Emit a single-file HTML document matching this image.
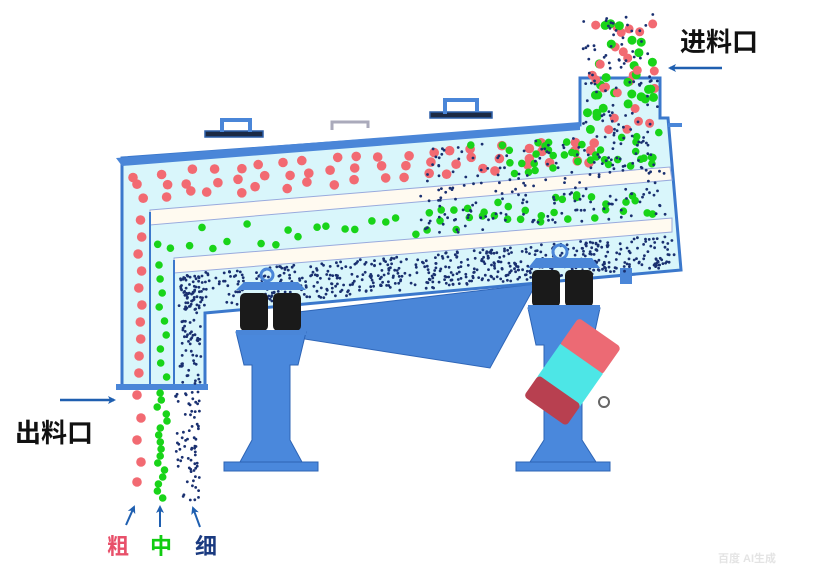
<!DOCTYPE html>
<html><head><meta charset="utf-8"><style>
html,body{margin:0;padding:0;background:#fff;width:821px;height:567px;overflow:hidden}
svg{display:block}
text{font-family:"Liberation Sans","Noto Sans CJK SC",sans-serif;font-weight:bold}
</style></head><body>
<svg id="s" width="821" height="567" viewBox="0 0 821 567" xmlns="http://www.w3.org/2000/svg">
<defs>
<marker id="ah" markerWidth="8" markerHeight="8" refX="6" refY="4" orient="auto" markerUnits="userSpaceOnUse"><path d="M0,0 L8,4 L0,8 L2,4 Z" fill="#1f5fb0"/></marker>
</defs>
<polygon points="298,312 536,284 490,368 298,338" fill="#4a86d8" stroke="#2f66b8" stroke-width="1"/>
<g fill="#4a88dc" stroke="#2d64b5" stroke-width="1">
<polygon points="236,332 306,332 298,365 290,365 290,440 302,462 240,462 252,440 252,365 244,365"/>
<rect x="224" y="462" width="94" height="9"/>
<polygon points="528,308 600,308 592,345 582,345 582,440 596,462 530,462 544,440 544,345 536,345"/>
<rect x="516" y="462" width="94" height="9"/>
</g>
<g transform="rotate(35 575 370)">
<rect x="548" y="325" width="52" height="34" rx="4" fill="#ec6a74"/>
<rect x="548" y="357" width="52" height="40" fill="#4de6e6"/>
<rect x="548" y="395" width="52" height="26" rx="4" fill="#b84050"/>
</g>
<circle cx="604" cy="402" r="5" fill="none" stroke="#666" stroke-width="2"/>
<polygon points="122,158 580,125 580,78 660,78 660,118 668,118 681,270 205,313 205,388 122,388" fill="#d9f6fb" stroke="#3b78cc" stroke-width="3"/>
<polygon points="116,158 580,122 580,130 122,166" fill="#4a86d8"/>
<line x1="668" y1="125" x2="682" y2="125" stroke="#4a86d8" stroke-width="4"/>
<rect x="620" y="268" width="12" height="16" fill="#4a86d8"/>
<polygon points="150,210 670,167 672,180 150,225" fill="#fffaf0" stroke="#9ad" stroke-width="1"/>
<polygon points="174,258 672,218 672,232 174,273" fill="#fffaf0" stroke="#9ad" stroke-width="1"/>
<line x1="150" y1="212" x2="150" y2="388" stroke="#3b78cc" stroke-width="2"/>
<line x1="174" y1="260" x2="174" y2="388" stroke="#3b78cc" stroke-width="2"/>
<rect x="116" y="384" width="92" height="6" fill="#4a86d8"/>
<g fill="#4a86d8" stroke="#2d5fa8" stroke-width="1.5">
<rect x="205" y="131" width="58" height="6" fill="#1c2a44"/>
<path d="M222,132 V120 H250 V132" fill="none" stroke="#4a86d8" stroke-width="4"/>
<path d="M332,130 V122 H368 V128" fill="none" stroke="#aab" stroke-width="3"/>
<rect x="430" y="112" width="62" height="6" fill="#1c2a44"/>
<path d="M445,114 V100 H477 V112" fill="none" stroke="#4a86d8" stroke-width="4"/>
</g>
<g id="parts"></g>
<g>
<polygon points="236,290 306,290 298,282 244,282" fill="#4a86d8"/>
<circle cx="267" cy="275" r="6" fill="none" stroke="#4a86d8" stroke-width="3"/>
<rect x="240" y="293" width="28" height="38" rx="5" fill="#1a1a1a"/>
<rect x="273" y="293" width="28" height="38" rx="5" fill="#1a1a1a"/>
<polygon points="528,268 600,268 592,258 536,258" fill="#4a86d8"/>
<circle cx="560" cy="252" r="7" fill="none" stroke="#4a86d8" stroke-width="3"/>
<rect x="532" y="270" width="28" height="37" rx="5" fill="#1a1a1a"/>
<rect x="565" y="270" width="28" height="37" rx="5" fill="#1a1a1a"/>
<rect x="528" y="305" width="72" height="5" fill="#4a86d8"/>
<rect x="236" y="330" width="70" height="5" fill="#4a86d8"/>
</g>
<text x="680" y="51" font-size="26" fill="#111">进料口</text>
<line x1="722" y1="68" x2="670" y2="68" stroke="#1f5fb0" stroke-width="2.5" marker-end="url(#ah)"/>
<text x="15" y="442" font-size="26" fill="#111">出料口</text>
<line x1="60" y1="400" x2="114" y2="400" stroke="#1f5fb0" stroke-width="2.5" marker-end="url(#ah)"/>
<line x1="126" y1="525" x2="134" y2="507" stroke="#1f5fb0" stroke-width="2" marker-end="url(#ah)"/>
<line x1="160" y1="527" x2="160" y2="507" stroke="#1f5fb0" stroke-width="2" marker-end="url(#ah)"/>
<line x1="200" y1="527" x2="193" y2="508" stroke="#1f5fb0" stroke-width="2" marker-end="url(#ah)"/>
<text x="107" y="554" font-size="22" fill="#e8506a">粗</text>
<text x="150" y="554" font-size="22" fill="#11cc11">中</text>
<text x="195" y="554" font-size="22" fill="#1a3a80">细</text>
<text x="718" y="562" font-size="11" fill="#e4e4e4" font-weight="normal">百度 AI生成</text>
</svg>
<script>
(function(){
var seed=7;function rnd(){seed=(seed*16807)%2147483647;return (seed-1)/2147483646;}
var g=document.getElementById('parts');var NS='http://www.w3.org/2000/svg';
function c(x,y,rad,f){var e=document.createElementNS(NS,'circle');e.setAttribute('cx',x.toFixed(1));e.setAttribute('cy',y.toFixed(1));e.setAttribute('r',rad);e.setAttribute('fill',f);g.appendChild(e);}
var R='#f26a72',G='#19d419',B='#1a3070';
function tp(x){return 160-(x-122)*33/458;}
function ud(x){return 211-(x-150)*44/520;}
function ld(x){return 259-(x-174)*41/498;}
function bt(x){return 311-(x-205)*41/476;}
var i,j,x,a,b;
for(x=140;x<600;x+=24){a=tp(x)+10;b=ud(x)-8;for(j=0;j<3;j++){c(x+(rnd()-0.5)*14,a+(j+0.2+rnd()*0.6)*(b-a)/3,4.8,R);}}
for(i=0;i<10;i++){c(138+rnd()*4,220+i*17,4.8,R);}
for(x=160;x<660;x+=14){a=ud(x)+20;b=ld(x)-5;c(x+(rnd()-0.5)*8,a+rnd()*(b-a),3.8,G);if(x>420)c(x+(rnd()-0.5)*8,a+rnd()*(b-a),3.8,G);}
for(i=0;i<40;i++){x=470+rnd()*190;a=tp(x)+10;b=ud(x)-4;if(x>640)a=130;c(x,a+rnd()*(b-a),3.8,G);}
for(i=0;i<9;i++){c(159+rnd()*8,265+i*14,3.8,G);}
for(i=0;i<650;i++){x=180+rnd()*495;a=ld(x)+16;b=bt(x)-3;c(x,a+rnd()*(b-a),1.4,B);}
for(i=0;i<220;i++){x=420+rnd()*250;a=tp(x)+10;b=ld(x)-3;if(x>640)a=130;c(x,a+rnd()*(b-a),1.4,B);}
for(i=0;i<80;i++){c(179+rnd()*22,275+rnd()*110,1.4,B);}
for(i=0;i<55;i++){x=585+rnd()*70;c(x,20+rnd()*110,4.5,rnd()<0.55?R:G);}
for(i=0;i<80;i++){c(583+rnd()*75,14+rnd()*120,1.4,B);}
var ry=[395,418,440,462,482];for(i=0;i<5;i++)c(137+(i%2)*4,ry[i],4.8,R);
for(i=0;i<16;i++)c(157+rnd()*10,393+i*7,3.8,G);
for(i=0;i<70;i++)c(175+rnd()*25,392+rnd()*110,1.4,B);
})();
</script>
</body></html>
